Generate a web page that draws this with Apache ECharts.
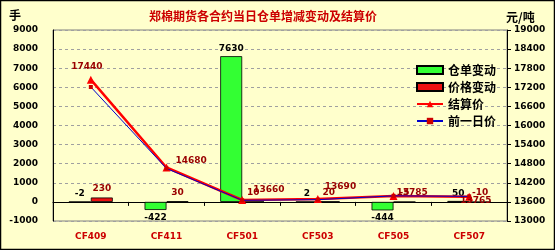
<!DOCTYPE html>
<html>
<head>
<meta charset="utf-8">
<script src="https://cdn.jsdelivr.net/npm/echarts@6/dist/echarts.min.js"></script>
<style>
html,body{margin:0;padding:0;background:#FFFFCC;}
#c{width:555px;height:250px;}
</style>
</head>
<body>
<div id="c"></div>
<script>
const categories = ['CF409','CF411','CF501','CF503','CF505','CF507'];
const warrantChange = [-2, -422, 7630, 2, -444, 50];
const priceChange = [230, 30, 10, 20, -5, -10];
const settlePrice = [17440, 14680, 13660, 13690, 13785, 13765];
const prevPrice = [17210, 14650, 13650, 13670, 13790, 13775];
const seriesNames = ['仓单变动', '价格变动', '结算价', '前一日价'];
const titleText = '郑棉期货各合约当日仓单增减变动及结算价';
const leftUnit = '手';
const rightUnit = '元/吨';

const numFont = 'DejaVu Sans';
const cjkFont = 'Noto Sans CJK SC';
const settleLabelPos = [
  {position: 'top', offset: [-4, 0]},
  {position: 'right', offset: [0, -7]},
  {position: 'right', offset: [2, -10]},
  {position: 'right', offset: [-2, -12]},
  {position: 'right', offset: [-6, -3]},
  {position: 'right', offset: [-18, 4]}
];

const chart = echarts.init(document.getElementById('c'), null, {renderer: 'canvas'});
const option = {
  backgroundColor: '#FFFFCC',
  animation: false,
  title: {
    text: titleText, left: 144, top: 5,
    textStyle: {fontFamily: cjkFont, fontSize: 12, fontWeight: 'bold', color: '#CC0000'}
  },
  graphic: [
    {type: 'rect', shape: {x: 0.5, y: 0.5, width: 554, height: 249}, style: {fill: 'none', stroke: '#000', lineWidth: 1.5}, z: 100},
    {type: 'text', left: 9, top: 9, style: {text: leftUnit, font: 'bold 12px "Noto Sans CJK SC"', fill: '#000'}},
    {type: 'text', left: 506, top: 11, style: {text: rightUnit, font: 'bold 12px "Noto Sans CJK SC"', fill: '#000'}}
  ],
  legend: {
    orient: 'vertical', left: 411, top: 59, itemWidth: 26, itemHeight: 8, itemGap: 5,
    textStyle: {fontFamily: cjkFont, fontSize: 12, fontWeight: 'bold', color: '#000'},
    data: [
      {name: seriesNames[0], icon: 'rect'},
      {name: seriesNames[1], icon: 'rect'},
      {name: seriesNames[2]},
      {name: seriesNames[3]}
    ]
  },
  grid: {left: 53, right: 48, top: 30, bottom: 29, show: true, borderColor: '#808080', borderWidth: 1, backgroundColor: 'transparent'},
  xAxis: [
    {
      type: 'category', data: categories, position: 'bottom',
      axisLine: {onZero: false, show: false}, axisTick: {show: false},
      axisLabel: {margin: 11, color: '#CC0000', fontFamily: numFont, fontSize: 9, fontWeight: 'bold'}
    },
    {
      type: 'category', data: categories, position: 'bottom',
      axisLine: {onZero: true, onZeroAxisIndex: 0, lineStyle: {color: '#000', width: 1}},
      axisTick: {show: true, length: 4, lineStyle: {color: '#000'}},
      axisLabel: {show: false}
    }
  ],
  yAxis: [
    {
      type: 'value', min: -1000, max: 9000, interval: 1000,
      axisLine: {show: true, lineStyle: {color: '#000'}}, axisTick: {show: false},
      axisLabel: {margin: 15, color: '#000', fontFamily: numFont, fontSize: 9, fontWeight: 'bold', formatter: v => String(v)},
      splitLine: {show: true, lineStyle: {color: '#A0A0A0', type: [3, 3]}}
    },
    {
      type: 'value', min: 13000, max: 19000, alignTicks: true,
      axisLine: {show: true, lineStyle: {color: '#000'}},
      axisTick: {show: true, length: 4, lineStyle: {color: '#000'}},
      axisLabel: {margin: 7, color: '#000', fontFamily: numFont, fontSize: 9, fontWeight: 'bold', formatter: v => String(v)},
      splitLine: {show: false}
    }
  ],
  series: [
    {
      name: seriesNames[0], type: 'bar', xAxisIndex: 0, yAxisIndex: 0,
      barGap: '0%', barCategoryGap: '42%',
      itemStyle: {color: '#33FF33', borderColor: '#000', borderWidth: 0.8},
      label: {show: true, color: '#000', fontFamily: numFont, fontSize: 9, fontWeight: 'bold', formatter: '{c}', distance: 3},
      data: warrantChange.map(v => ({value: v, label: {position: v < -50 ? 'bottom' : 'top'}})),
      z: 2
    },
    {
      name: seriesNames[1], type: 'bar', xAxisIndex: 0, yAxisIndex: 0,
      itemStyle: {color: '#EE1111', borderColor: '#000', borderWidth: 0.8},
      label: {show: true, position: 'top', color: '#990000', fontFamily: numFont, fontSize: 9, fontWeight: 'bold', formatter: '{c}', distance: 4},
      data: priceChange,
      z: 2
    },
    {
      name: seriesNames[2], type: 'line', xAxisIndex: 0, yAxisIndex: 1,
      symbol: 'triangle', symbolSize: 8,
      lineStyle: {color: '#FF0000', width: 2.5},
      itemStyle: {color: '#FF0000'},
      label: {show: true, color: '#990000', fontFamily: numFont, fontSize: 9, fontWeight: 'bold', formatter: '{c}', distance: 5},
      data: settlePrice.map((v, i) => ({value: v, label: settleLabelPos[i]})),
      z: 4
    },
    {
      name: seriesNames[3], type: 'line', xAxisIndex: 0, yAxisIndex: 1,
      symbol: 'rect', symbolSize: 4,
      lineStyle: {color: '#0000CC', width: 1},
      itemStyle: {color: '#CC0000'},
      data: prevPrice,
      z: 5
    }
  ]
};
chart.setOption(option);
</script>
</body>
</html>
